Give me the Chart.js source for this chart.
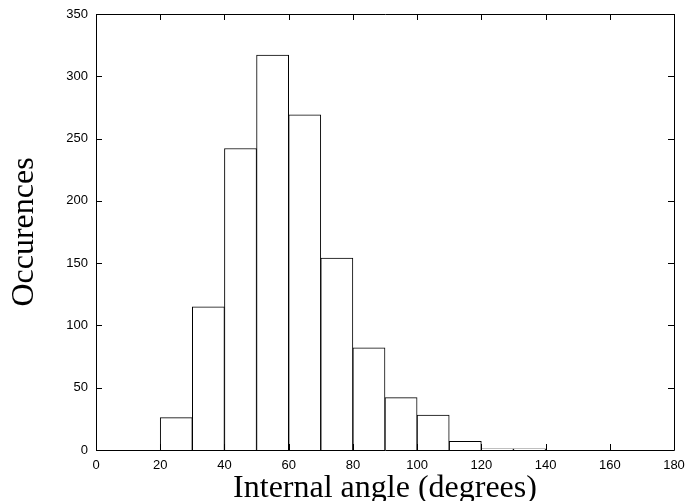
<!DOCTYPE html>
<html>
<head>
<meta charset="utf-8">
<script src="https://cdn.jsdelivr.net/npm/chart.js@4"></script>
<style>
  html, body { margin: 0; padding: 0; background: #fff; }
  #wrap { width: 685px; height: 501px; }
</style>
</head>
<body>
<div id="wrap"><canvas id="histChart" width="685" height="501"></canvas></div>
<script>
// bin centres (degrees) and counts per 10-degree bin
const binCenters = [25, 35, 45, 55, 65, 75, 85, 95, 105, 115, 125, 135];
const counts = [26, 115, 242, 317, 269, 154, 82, 42, 28, 7, 1, 1];
const xTicks = [0, 20, 40, 60, 80, 100, 120, 140, 160, 180];
const yTicks = [0, 50, 100, 150, 200, 250, 300, 350];

// box around the plot with inward ticks on all four sides
const frameTicks = {
    id: 'frameTicks',
    afterDatasetsDraw(chart) {
        const { ctx, chartArea: a, scales } = chart;
        const len = 6;
        ctx.save();
        ctx.strokeStyle = '#000';
        ctx.lineWidth = 1;
        ctx.beginPath();
        ctx.rect(Math.round(a.left) + 0.5, Math.round(a.top) + 0.5,
                 Math.round(a.right - a.left), Math.round(a.bottom - a.top));
        xTicks.forEach(v => {
            const px = Math.round(scales.x.getPixelForValue(v)) + 0.5;
            ctx.moveTo(px, a.bottom);
            ctx.lineTo(px, a.bottom - len);
            ctx.moveTo(px, a.top);
            ctx.lineTo(px, a.top + len);
        });
        yTicks.forEach(v => {
            const py = Math.round(scales.y.getPixelForValue(v)) + 0.5;
            ctx.moveTo(a.left, py);
            ctx.lineTo(a.left + len, py);
            ctx.moveTo(a.right, py);
            ctx.lineTo(a.right - len, py);
        });
        ctx.stroke();
        ctx.restore();
    }
};

const tickFont = { family: '"Liberation Sans", Arial, sans-serif', size: 13 };
const titleFont = { family: '"Liberation Serif", "Times New Roman", serif', size: 32, lineHeight: 0.8 };

new Chart(document.getElementById('histChart'), {
    type: 'bar',
    data: {
        datasets: [{
            data: binCenters.map((c, i) => ({ x: c, y: counts[i] })),
            backgroundColor: '#fff',
            borderColor: '#000',
            borderWidth: 1,
            barPercentage: 1,
            categoryPercentage: 1
        }]
    },
    options: {
        responsive: false,
        animation: false,
        layout: { padding: { top: 14, right: 11, left: 0, bottom: 0 } },
        plugins: { legend: { display: false }, tooltip: { enabled: false } },
        scales: {
            x: {
                type: 'linear',
                offset: false,
                min: 0,
                max: 180,
                afterFit(scale) {
                    scale.height = 51;
                    // let the last label run off the edge like the original
                    scale.paddingLeft = 0;
                    scale.paddingRight = 0;
                },
                afterBuildTicks(scale) { scale.ticks = xTicks.map(v => ({ value: v })); },
                grid: { display: false, drawTicks: false },
                border: { display: false },
                ticks: { font: tickFont, color: '#000', padding: 8, maxRotation: 0 },
                title: {
                    display: true,
                    text: 'Internal angle (degrees)',
                    font: titleFont,
                    color: '#000',
                    padding: { top: 0, bottom: 0 }
                }
            },
            y: {
                min: 0,
                max: 350,
                afterFit(scale) {
                    scale.width = 96;
                    scale.paddingTop = 0;
                    scale.paddingBottom = 0;
                },
                afterBuildTicks(scale) { scale.ticks = yTicks.map(v => ({ value: v })); },
                grid: { display: false, drawTicks: false },
                border: { display: false },
                ticks: { font: tickFont, color: '#000', padding: 8 },
                title: {
                    display: true,
                    text: 'Occurences',
                    font: titleFont,
                    color: '#000',
                    padding: { top: 12, bottom: 0 }
                }
            }
        }
    },
    plugins: [frameTicks]
});
</script>
</body>
</html>
